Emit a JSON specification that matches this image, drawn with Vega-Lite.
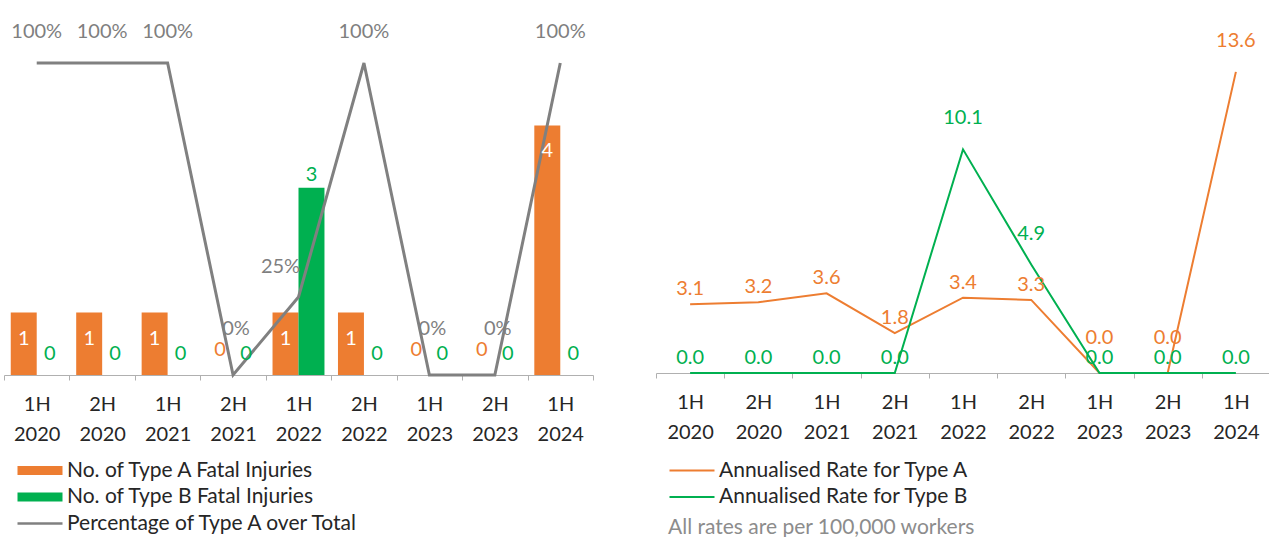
{
  "$schema": "https://vega.github.io/schema/vega-lite/v6.json",
  "padding": {"left": 3, "top": 22, "right": 0, "bottom": 0},
  "background": "white",
  "bounds": "flush",
  "spacing": 63,
  "resolve": {"scale": {"color": "independent"}, "legend": {"color": "independent"}},
  "config": {
    "font": "Lato",
    "view": {"stroke": null},
    "axis": {
      "labelFont": "Lato",
      "labelFontSize": 20,
      "labelColor": "#262626",
      "domainColor": "#b0b0b0",
      "tickColor": "#b0b0b0",
      "grid": false
    },
    "legend": {"labelFont": "Lato", "titleFont": "Lato"}
  },
  "datasets": {
    "counts": [
      {"period": "1H 2020", "series": "No. of Type A Fatal Injuries", "count": 1},
      {"period": "2H 2020", "series": "No. of Type A Fatal Injuries", "count": 1},
      {"period": "1H 2021", "series": "No. of Type A Fatal Injuries", "count": 1},
      {"period": "2H 2021", "series": "No. of Type A Fatal Injuries", "count": 0},
      {"period": "1H 2022", "series": "No. of Type A Fatal Injuries", "count": 1},
      {"period": "2H 2022", "series": "No. of Type A Fatal Injuries", "count": 1},
      {"period": "1H 2023", "series": "No. of Type A Fatal Injuries", "count": 0},
      {"period": "2H 2023", "series": "No. of Type A Fatal Injuries", "count": 0},
      {"period": "1H 2024", "series": "No. of Type A Fatal Injuries", "count": 4},
      {"period": "1H 2020", "series": "No. of Type B Fatal Injuries", "count": 0},
      {"period": "2H 2020", "series": "No. of Type B Fatal Injuries", "count": 0},
      {"period": "1H 2021", "series": "No. of Type B Fatal Injuries", "count": 0},
      {"period": "2H 2021", "series": "No. of Type B Fatal Injuries", "count": 0},
      {"period": "1H 2022", "series": "No. of Type B Fatal Injuries", "count": 3},
      {"period": "2H 2022", "series": "No. of Type B Fatal Injuries", "count": 0},
      {"period": "1H 2023", "series": "No. of Type B Fatal Injuries", "count": 0},
      {"period": "2H 2023", "series": "No. of Type B Fatal Injuries", "count": 0},
      {"period": "1H 2024", "series": "No. of Type B Fatal Injuries", "count": 0}
    ],
    "pct": [
      {"period": "1H 2020", "pct": 1},
      {"period": "2H 2020", "pct": 1},
      {"period": "1H 2021", "pct": 1},
      {"period": "2H 2021", "pct": 0},
      {"period": "1H 2022", "pct": 0.25},
      {"period": "2H 2022", "pct": 1},
      {"period": "1H 2023", "pct": 0},
      {"period": "2H 2023", "pct": 0},
      {"period": "1H 2024", "pct": 1}
    ],
    "rates": [
      {"period": "1H 2020", "series": "Annualised Rate for Type A", "rate": 3.1},
      {"period": "2H 2020", "series": "Annualised Rate for Type A", "rate": 3.2},
      {"period": "1H 2021", "series": "Annualised Rate for Type A", "rate": 3.6},
      {"period": "2H 2021", "series": "Annualised Rate for Type A", "rate": 1.8},
      {"period": "1H 2022", "series": "Annualised Rate for Type A", "rate": 3.4},
      {"period": "2H 2022", "series": "Annualised Rate for Type A", "rate": 3.3},
      {"period": "1H 2023", "series": "Annualised Rate for Type A", "rate": 0},
      {"period": "2H 2023", "series": "Annualised Rate for Type A", "rate": 0},
      {"period": "1H 2024", "series": "Annualised Rate for Type A", "rate": 13.6},
      {"period": "1H 2020", "series": "Annualised Rate for Type B", "rate": 0},
      {"period": "2H 2020", "series": "Annualised Rate for Type B", "rate": 0},
      {"period": "1H 2021", "series": "Annualised Rate for Type B", "rate": 0},
      {"period": "2H 2021", "series": "Annualised Rate for Type B", "rate": 0},
      {"period": "1H 2022", "series": "Annualised Rate for Type B", "rate": 10.1},
      {"period": "2H 2022", "series": "Annualised Rate for Type B", "rate": 4.9},
      {"period": "1H 2023", "series": "Annualised Rate for Type B", "rate": 0},
      {"period": "2H 2023", "series": "Annualised Rate for Type B", "rate": 0},
      {"period": "1H 2024", "series": "Annualised Rate for Type B", "rate": 0}
    ]
  },
  "hconcat": [
    {
      "width": 589,
      "height": 312,
      "encoding": {
        "x": {
          "field": "period",
          "type": "nominal",
          "sort": ["1H 2020", "2H 2020", "1H 2021", "2H 2021", "1H 2022", "2H 2022", "1H 2023", "2H 2023", "1H 2024"],
          "scale": {"paddingInner": 0, "paddingOuter": 0},
          "axis": {
            "title": null,
            "labelAngle": 0,
            "labelExpr": "split(datum.label, ' ')",
            "tickBand": "extent",
            "labelLineHeight": 30,
            "labelPadding": 14,
            "tickSize": 5
          }
        }
      },
      "layer": [
        {
          "data": {"name": "counts"},
          "mark": {"type": "bar"},
          "encoding": {
            "xOffset": {
              "field": "series",
              "type": "nominal",
              "scale": {"domain": ["No. of Type A Fatal Injuries", "No. of Type B Fatal Injuries"], "paddingInner": 0, "paddingOuter": 0.26}
            },
            "y": {"field": "count", "type": "quantitative", "scale": {"domain": [0, 5]}, "axis": null},
            "color": {
              "field": "series",
              "type": "nominal",
              "scale": {
                "domain": ["No. of Type A Fatal Injuries", "No. of Type B Fatal Injuries", "Percentage of Type A over Total"],
                "range": ["#ED7D31", "#00B050", "#808080"]
              },
              "legend": {
                "title": null,
                "orient": "none",
                "legendX": 12,
                "legendY": 397,
                "direction": "vertical",
                "labelFontSize": 21,
                "labelColor": "#262626",
                "labelLimit": 500,
                "symbolSize": 324,
                "labelOffset": 30,
                "rowPadding": 4.5,
                "padding": 0,
                "encode": {
                  "symbols": {
                    "update": {
                      "shape": {"signal": "datum.value === 'Percentage of Type A over Total' ? 'M-1,-0.15H4V0.15H-1Z' : 'M-1,-0.5H4V0.5H-1Z'"},
                      "fill": {"signal": "datum.value === 'No. of Type A Fatal Injuries' ? '#ED7D31' : (datum.value === 'No. of Type B Fatal Injuries' ? '#00B050' : '#808080')"},
                      "stroke": {"value": "transparent"},
                      "strokeWidth": {"value": 0},
                      "opacity": {"value": 1},
                      "fillOpacity": {"value": 1}
                    }
                  }
                }
              }
            }
          }
        },
        {
          "data": {"name": "pct"},
          "mark": {"type": "line", "strokeWidth": 3},
          "encoding": {
            "y": {"field": "pct", "type": "quantitative", "scale": {"domain": [0, 1]}, "axis": null},
            "color": {"datum": "Percentage of Type A over Total", "type": "nominal"},
            "order": {"value": null}
          }
        },
        {
          "data": {"name": "counts"},
          "transform": [{"filter": "datum.series === 'No. of Type A Fatal Injuries' && datum.count > 0"}],
          "mark": {"type": "text", "color": "white", "dy": 26, "fontSize": 20},
          "encoding": {
            "xOffset": {"field": "series", "type": "nominal", "scale": {"domain": ["No. of Type A Fatal Injuries", "No. of Type B Fatal Injuries"], "paddingInner": 0, "paddingOuter": 0.26}},
            "y": {"field": "count", "type": "quantitative", "scale": {"domain": [0, 5]}, "axis": null},
            "text": {"field": "count", "type": "quantitative"}
          }
        },
        {
          "data": {"name": "counts"},
          "transform": [{"filter": "datum.series === 'No. of Type A Fatal Injuries' && datum.count == 0"}],
          "mark": {"type": "text", "color": "#ED7D31", "dy": -25, "fontSize": 20},
          "encoding": {
            "xOffset": {"field": "series", "type": "nominal", "scale": {"domain": ["No. of Type A Fatal Injuries", "No. of Type B Fatal Injuries"], "paddingInner": 0, "paddingOuter": 0.26}},
            "y": {"field": "count", "type": "quantitative", "scale": {"domain": [0, 5]}, "axis": null},
            "text": {"field": "count", "type": "quantitative"}
          }
        },
        {
          "data": {"name": "counts"},
          "transform": [{"filter": "datum.series === 'No. of Type B Fatal Injuries' && datum.count == 0"}],
          "mark": {"type": "text", "color": "#00B050", "dy": -21, "fontSize": 20},
          "encoding": {
            "xOffset": {"field": "series", "type": "nominal", "scale": {"domain": ["No. of Type A Fatal Injuries", "No. of Type B Fatal Injuries"], "paddingInner": 0, "paddingOuter": 0.26}},
            "y": {"field": "count", "type": "quantitative", "scale": {"domain": [0, 5]}, "axis": null},
            "text": {"field": "count", "type": "quantitative"}
          }
        },
        {
          "data": {"name": "counts"},
          "transform": [{"filter": "datum.series === 'No. of Type B Fatal Injuries' && datum.count > 0"}],
          "mark": {"type": "text", "color": "#00B050", "dy": -13, "fontSize": 20},
          "encoding": {
            "xOffset": {"field": "series", "type": "nominal", "scale": {"domain": ["No. of Type A Fatal Injuries", "No. of Type B Fatal Injuries"], "paddingInner": 0, "paddingOuter": 0.26}},
            "y": {"field": "count", "type": "quantitative", "scale": {"domain": [0, 5]}, "axis": null},
            "text": {"field": "count", "type": "quantitative"}
          }
        },
        {
          "data": {"name": "pct"},
          "transform": [{"filter": "datum.pct == 1"}],
          "mark": {"type": "text", "color": "#7f7f7f", "dy": -31, "fontSize": 20},
          "encoding": {
            "y": {"field": "pct", "type": "quantitative", "scale": {"domain": [0, 1]}, "axis": null},
            "text": {"field": "pct", "type": "quantitative", "format": ".0%"}
          }
        },
        {
          "data": {"name": "pct"},
          "transform": [{"filter": "datum.pct == 0"}],
          "mark": {"type": "text", "color": "#7f7f7f", "dy": -46, "dx": 3, "fontSize": 20},
          "encoding": {
            "y": {"field": "pct", "type": "quantitative", "scale": {"domain": [0, 1]}, "axis": null},
            "text": {"field": "pct", "type": "quantitative", "format": ".0%"}
          }
        },
        {
          "data": {"name": "pct"},
          "transform": [{"filter": "datum.pct > 0 && datum.pct < 1"}],
          "mark": {"type": "text", "color": "#7f7f7f", "dy": -30, "dx": -18, "fontSize": 20},
          "encoding": {
            "y": {"field": "pct", "type": "quantitative", "scale": {"domain": [0, 1]}, "axis": null},
            "text": {"field": "pct", "type": "quantitative", "format": ".0%"}
          }
        }
      ],
      "resolve": {"scale": {"y": "independent"}}
    },
    {
      "width": 614,
      "height": 310,
      "data": {"name": "rates"},
      "encoding": {
        "x": {
          "field": "period",
          "type": "nominal",
          "sort": ["1H 2020", "2H 2020", "1H 2021", "2H 2021", "1H 2022", "2H 2022", "1H 2023", "2H 2023", "1H 2024"],
          "scale": {"paddingInner": 0, "paddingOuter": 0},
          "axis": {
            "title": null,
            "labelAngle": 0,
            "labelExpr": "split(datum.label, ' ')",
            "tickBand": "extent",
            "labelLineHeight": 30,
            "labelPadding": 14,
            "tickSize": 5
          }
        },
        "y": {"field": "rate", "type": "quantitative", "scale": {"domain": [0, 14]}, "axis": null},
        "color": {
          "field": "series",
          "type": "nominal",
          "scale": {"domain": ["Annualised Rate for Type A", "Annualised Rate for Type B"], "range": ["#ED7D31", "#00B050"]},
          "legend": {
            "title": "All rates are per 100,000 workers",
            "titleOrient": "bottom",
            "titleColor": "#8c8c8c",
            "titleFontSize": 21,
            "titleFontWeight": "normal",
            "titlePadding": 10,
            "titleLimit": 600,
            "titleAnchor": "start",
            "orient": "none",
            "legendX": 12,
            "legendY": 397,
            "direction": "vertical",
            "labelFontSize": 21,
            "labelColor": "#262626",
            "labelLimit": 500,
            "symbolSize": 324,
            "labelOffset": 30,
            "rowPadding": 4.5,
            "padding": 0,
            "encode": {
              "symbols": {
                "update": {
                  "shape": {"value": "M-1,-0.12H4V0.12H-1Z"},
                  "fill": {"signal": "datum.value === 'Annualised Rate for Type A' ? '#ED7D31' : '#00B050'"},
                  "stroke": {"value": "transparent"},
                  "strokeWidth": {"value": 0},
                  "opacity": {"value": 1},
                  "fillOpacity": {"value": 1}
                }
              }
            }
          }
        }
      },
      "layer": [
        {
          "mark": {"type": "line", "strokeWidth": 2},
          "encoding": {"order": {"value": null}}
        },
        {
          "transform": [{"filter": "datum.rate > 4"}],
          "mark": {"type": "text", "dy": -31, "fontSize": 20},
          "encoding": {"text": {"field": "rate", "type": "quantitative", "format": ".1f"}}
        },
        {
          "transform": [{"filter": "datum.rate == 0 && datum.series === 'Annualised Rate for Type A'"}],
          "mark": {"type": "text", "dy": -35, "fontSize": 20},
          "encoding": {"text": {"field": "rate", "type": "quantitative", "format": ".1f"}}
        },
        {
          "transform": [{"filter": "datum.rate <= 4 && !(datum.rate == 0 && datum.series === 'Annualised Rate for Type A')"}],
          "mark": {"type": "text", "dy": -15, "fontSize": 20},
          "encoding": {"text": {"field": "rate", "type": "quantitative", "format": ".1f"}}
        }
      ]
    }
  ]
}
